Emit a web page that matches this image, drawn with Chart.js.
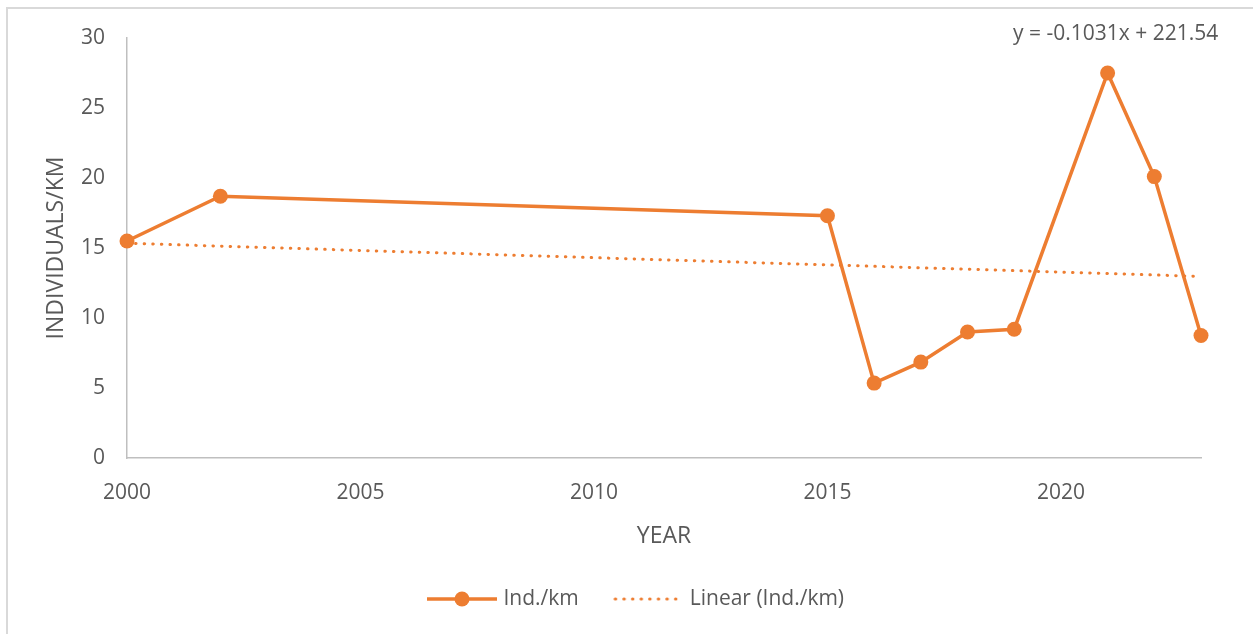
<!DOCTYPE html>
<html>
<head>
<meta charset="utf-8">
<script src="https://cdn.jsdelivr.net/npm/chart.js@4.4.1/dist/chart.umd.min.js"></script>
<style>
  html, body { margin: 0; padding: 0; background: #ffffff; }
  #wrap { width: 1253px; height: 634px; position: relative; }
</style>
</head>
<body>
<div id="wrap"><canvas id="c" width="1253" height="634"></canvas></div>
<script>
// ---- data ----
const years = [2000, 2002, 2015, 2016, 2017, 2018, 2019, 2021, 2022, 2023];
const indPerKm = [15.5, 18.7, 17.3, 5.35, 6.85, 9.0, 9.2, 27.5, 20.1, 8.75];
const trendYears = [2000, 2023];
const trendValues = [15.34, 12.97];
const xTicks = [2000, 2005, 2010, 2015, 2020];
const yTicks = [0, 5, 10, 15, 20, 25, 30];
const seriesName = 'Ind./km';
const trendName = 'Linear (Ind./km)';
const trendEquation = 'y = -0.1031x + 221.54';
const xTitle = 'YEAR';
const yTitle = 'INDIVIDUALS/KM';

// ---- styles ----
const ORANGE = '#ED7D31';
const TEXT = '#595959';
const AXIS = '#bfbfbf';
const FONT = 'Open Sans';

function legendLineMarker() {
  const c = document.createElement('canvas');
  c.width = 70; c.height = 18;
  const g = c.getContext('2d');
  g.strokeStyle = ORANGE; g.lineWidth = 3.5;
  g.beginPath(); g.moveTo(0, 9); g.lineTo(70, 9); g.stroke();
  g.fillStyle = ORANGE;
  g.beginPath(); g.arc(35, 9, 7.5, 0, Math.PI * 2); g.fill();
  return c;
}
function legendDotMarker() {
  const c = document.createElement('canvas');
  c.width = 70; c.height = 8;
  const g = c.getContext('2d');
  g.strokeStyle = ORANGE; g.lineWidth = 3; g.lineCap = 'round';
  g.setLineDash([0.5, 8.1]);
  g.beginPath(); g.moveTo(2, 4); g.lineTo(70, 4); g.stroke();
  return c;
}

const frame = {
  id: 'frame',
  beforeDraw(chart) {
    const ctx = chart.ctx;
    ctx.save();
    ctx.fillStyle = '#ffffff';
    ctx.fillRect(0, 0, chart.width, chart.height);
    ctx.strokeStyle = '#d9d9d9';
    ctx.lineWidth = 2;
    ctx.strokeRect(7, 8, chart.width + 20, chart.height + 20);
    ctx.restore();
  },
  afterLayout(chart) {
    if (chart.legend) { chart.legend.left += 27; chart.legend.right += 27; }
  },
  afterDraw(chart) {
    const ctx = chart.ctx;
    ctx.save();
    ctx.font = '21px "' + FONT + '"';
    ctx.fillStyle = TEXT;
    ctx.textAlign = 'left';
    ctx.textBaseline = 'middle';
    ctx.fillText(trendEquation, 1013, 34);
    ctx.restore();
  }
};

new Chart(document.getElementById('c'), {
  type: 'line',
  data: {
    datasets: [
      {
        label: seriesName,
        data: years.map((x, i) => ({ x: x, y: indPerKm[i] })),
        borderColor: ORANGE,
        backgroundColor: ORANGE,
        borderWidth: 3.5,
        pointRadius: 7.5,
        pointBorderWidth: 0,
        pointBackgroundColor: ORANGE,
        tension: 0,
        clip: false,
        order: 1
      },
      {
        label: trendName,
        data: trendYears.map((x, i) => ({ x: x, y: trendValues[i] })),
        borderColor: ORANGE,
        borderWidth: 3,
        borderDash: [0.5, 8.1],
        borderCapStyle: 'round',
        pointRadius: 0,
        tension: 0,
        clip: false,
        order: 2
      }
    ]
  },
  options: {
    responsive: false,
    animation: false,
    devicePixelRatio: 1,
    layout: { padding: { left: 20, right: 52, top: 38, bottom: 14.5 } },
    plugins: {
      tooltip: { enabled: false },
      legend: {
        position: 'bottom',
        labels: {
          font: { family: FONT, size: 21 },
          color: TEXT,
          usePointStyle: true,
          pointStyleWidth: 62,
          padding: 38.5,
          generateLabels: () => [
            { text: seriesName, pointStyle: legendLineMarker(), fillStyle: ORANGE, strokeStyle: ORANGE, lineWidth: 0, hidden: false, datasetIndex: 0, fontColor: TEXT },
            { text: trendName, pointStyle: legendDotMarker(), fillStyle: ORANGE, strokeStyle: ORANGE, lineWidth: 0, hidden: false, datasetIndex: 1, fontColor: TEXT }
          ]
        }
      }
    },
    scales: {
      x: {
        type: 'linear',
        min: 2000,
        max: 2023,
        afterBuildTicks: (s) => { s.ticks = xTicks.map(v => ({ value: v })); },
        afterFit: (s) => { s.height = 92; },
        grid: { display: false, drawTicks: false },
        border: { display: true, color: AXIS, width: 1.5 },
        ticks: {
          padding: 22,
          color: TEXT,
          font: { family: FONT, size: 21 },
          maxRotation: 0,
          callback: (v) => String(v)
        },
        title: {
          display: true,
          text: xTitle,
          color: TEXT,
          font: { family: FONT, size: 23 },
          padding: { top: 0, bottom: 0 }
        }
      },
      y: {
        type: 'linear',
        min: 0,
        max: 30,
        afterBuildTicks: (s) => { s.ticks = yTicks.map(v => ({ value: v })); },
        afterFit: (s) => { s.width = 107; },
        grid: { display: false, drawTicks: false },
        border: { display: true, color: AXIS, width: 1.5 },
        ticks: {
          padding: 22,
          color: TEXT,
          font: { family: FONT, size: 21 },
          callback: (v) => String(v)
        },
        title: {
          display: true,
          text: yTitle,
          color: TEXT,
          font: { family: FONT, size: 23 },
          padding: { top: 23, bottom: 0 }
        }
      }
    }
  },
  plugins: [frame]
});
</script>
</body>
</html>
